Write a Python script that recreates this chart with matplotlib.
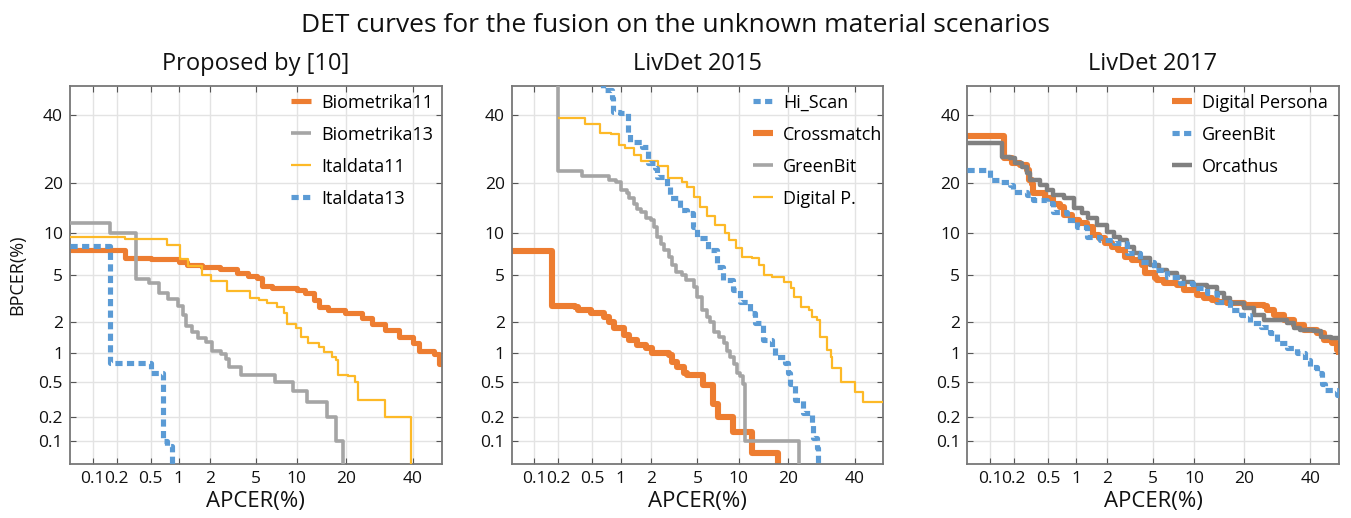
import numpy as np
import matplotlib
matplotlib.use("Agg")
import matplotlib.pyplot as plt
from matplotlib.ticker import FixedLocator, NullLocator, FixedFormatter
from statistics import NormalDist

# ---------------- data (values in %) ----------------
TICKS = [0.1, 0.2, 0.5, 1, 2, 5, 10, 20, 40]
TICK_LABELS = ["0.1", "0.2", "0.5", "1", "2", "5", "10", "20", "40"]
LIMITS = (0.05, 50)

SUPTITLE = "DET curves for the fusion on the unknown material scenarios"
TITLES = ["Proposed by [10]", "LivDet 2015", "LivDet 2017"]

# Panel 1 : Proposed by [10]
bio11_x = [0.05, 0.25, 0.5, 1.0, 1.2, 1.7, 2.5, 3.5, 4.3, 5.1, 5.6, 6.7, 10.0, 11.4, 13.0, 13.8,
           15.8, 19.7, 24.0, 26.9, 30.9, 35.3, 40.0, 42.0, 47.5, 49.0, 50]
bio11_y = [7.7, 6.7, 6.6, 6.3, 5.95, 5.8, 5.6, 5.2, 4.9, 4.75, 4.1, 3.95, 3.8, 3.6, 3.1, 2.7,
           2.56, 2.4, 2.15, 1.92, 1.68, 1.46, 1.25, 1.05, 0.98, 0.78, 0.78]

bio13_x = [0.05, 0.168, 0.34, 0.48, 0.62, 0.77, 0.97, 1.1, 1.17, 1.35, 1.54, 1.85, 2.1, 2.54,
           2.8, 3.0, 3.8, 7.0, 9.4, 11.6, 15.6, 17.6, 19.2]
bio13_y = [11.7, 10.0, 4.62, 4.29, 3.55, 3.2, 2.8, 2.3, 1.85, 1.62, 1.4, 1.3, 1.06, 0.98,
           0.88, 0.73, 0.6, 0.5, 0.4, 0.3, 0.2, 0.1, 0.02]

ital11_x = [0.05, 0.25, 0.75, 1.03, 1.23, 1.7, 2.05, 2.9, 4.5, 5.3, 6.1, 7.2, 8.1, 8.6, 9.9,
            10.6, 11.9, 13.8, 14.8, 16.5, 17.6, 18.0, 20.3, 22.3, 23.1, 30.9, 39.4]
ital11_y = [9.4, 9.2, 8.3, 6.6, 5.85, 5.0, 4.5, 3.7, 3.25, 3.12, 2.92, 2.74, 2.4, 1.92, 1.74,
            1.46, 1.25, 1.16, 1.02, 0.92, 0.85, 0.6, 0.58, 0.5, 0.31, 0.2, 0.02]

ital13_x = [0.05, 0.166, 0.5, 0.68, 0.75, 0.84]
ital13_y = [8.2, 0.8, 0.62, 0.1, 0.085, 0.02]

# Panel 2 : LivDet 2015
hiscan_x = [0.6, 0.66, 0.81, 0.83, 0.985, 1.19, 1.2, 1.24, 1.62, 1.87, 2.16, 2.24, 2.75, 2.94,
            3.59, 4.08, 4.62, 4.92, 6.06, 7.0, 7.82, 9.2, 10.2, 11.9, 12.8, 14.4, 16.2, 16.9,
            19.2, 20.0, 20.4, 21.7, 23.9, 26.3, 26.8, 27.8, 28.2]
hiscan_y = [55, 48.6, 45.7, 41.1, 40.6, 38.4, 34.0, 31.4, 29.9, 25.0, 23.7, 21.5, 19.0, 16.4,
            14.0, 13.4, 11.0, 9.25, 7.67, 5.8, 4.57, 3.8, 3.03, 2.4, 1.95, 1.35, 1.16, 0.92,
            0.79, 0.62, 0.48, 0.31, 0.22, 0.166, 0.108, 0.081, 0.02]

cross_x = [0.05, 0.169, 0.32, 0.34, 0.48, 0.67, 0.76, 0.85, 1.08, 1.22, 1.47, 1.77, 2.04, 2.89,
           3.09, 3.41, 3.88, 4.14, 5.55, 6.6, 7.2, 9.2, 12.2, 17.6]
cross_y = [7.6, 2.78, 2.7, 2.56, 2.4, 2.23, 2.0, 1.74, 1.51, 1.36, 1.21, 1.12, 1.0, 0.95,
           0.82, 0.73, 0.62, 0.6, 0.46, 0.28, 0.2, 0.13, 0.07, 0.02]

gb15_x = [0.2, 0.2, 0.385, 0.76, 0.89, 1.0, 1.17, 1.22, 1.36, 1.47, 1.58, 1.77, 1.97, 2.11,
          2.27, 2.43, 2.61, 2.89, 3.09, 3.3, 3.75, 4.0, 4.69, 4.98, 5.45, 5.95, 6.3, 6.68,
          7.27, 7.9, 8.35, 8.8, 9.3, 9.8, 10.3, 10.75, 11.1, 22.8]
gb15_y = [99, 23.0, 21.6, 20.6, 20.2, 18.2, 17.5, 16.4, 15.3, 14.3, 13.7, 12.5, 12.2, 11.0,
          9.5, 8.5, 7.66, 6.86, 5.96, 5.3, 5.0, 4.56, 4.03, 3.33, 2.56, 2.23, 2.0, 1.62,
          1.46, 1.25, 1.06, 0.92, 0.77, 0.62, 0.58, 0.47, 0.1, 0.02]

dp15_x = [0.2, 0.41, 0.6, 0.79, 0.96, 1.1, 1.36, 1.58, 2.28, 2.85, 3.75, 4.14, 4.69, 5.28,
          5.95, 6.87, 8.12, 8.58, 9.55, 10.6, 12.3, 13.5, 14.5, 16.3, 18.9, 20.6, 21.5, 23.2,
          25.5, 26.5, 27.9, 28.9, 31.0, 32.1, 32.6, 35.3, 40.1, 43.0, 50]
dp15_y = [38.9, 37.2, 34.2, 33.7, 30.4, 29.4, 27.4, 25.7, 24.3, 21.1, 20.2, 19.0, 16.7, 14.7,
          12.8, 11.3, 10.0, 9.0, 7.9, 6.86, 6.68, 5.96, 5.0, 4.85, 4.42, 3.9, 3.33, 2.74,
          2.56, 2.23, 2.08, 1.46, 1.08, 0.92, 0.70, 0.5, 0.39, 0.30, 0.30]

# Panel 3 : LivDet 2017
dp17_x = [0.05, 0.153, 0.188, 0.238, 0.285, 0.30, 0.33, 0.34, 0.465, 0.57, 0.68, 0.74, 0.90,
          1.06, 1.28, 1.49, 1.67, 1.93, 2.22, 2.55, 2.92, 3.34, 4.06, 4.32, 5.2, 5.36, 6.03,
          7.58, 8.47, 10.5, 11.6, 13.1, 14.0, 16.1, 20.0, 25.3, 26.3, 28.2, 31.3, 34.5, 37.8,
          42.4, 44.7, 47.6, 49.4, 50]
dp17_y = [33.1, 26.4, 25.0, 24.6, 23.2, 20.6, 19.8, 17.5, 16.4, 15.3, 14.7, 13.1, 12.2,
          11.6, 11.0, 9.7, 9.25, 8.55, 8.1, 7.66, 6.86, 6.5, 5.96, 5.14, 4.7, 4.56, 4.29,
          4.16, 3.79, 3.44, 3.22, 3.12, 3.02, 2.92, 2.83, 2.77, 2.56, 2.31, 2.08, 1.87, 1.68,
          1.57, 1.35, 1.25, 1.08, 0.95]

gb17_x = [0.05, 0.10, 0.135, 0.18, 0.198, 0.285, 0.34, 0.485, 0.57, 0.8, 1.02, 1.28, 1.73,
          2.3, 3.03, 3.93, 5.04, 6.4, 8.0, 9.9, 12.2, 14.0, 16.8, 19.2, 21.7, 24.4, 27.2,
          29.2, 32.4, 35.6, 38.4, 40.1, 42.4, 44.2, 45.3, 49.4, 50]
gb17_y = [23.2, 20.7, 20.2, 19.4, 17.9, 17.1, 16.1, 15.4, 13.7, 12.2, 11.0, 9.5, 9.0,
          8.55, 7.27, 6.3, 5.47, 4.86, 4.3, 3.91, 3.56, 3.03, 2.56, 2.31, 1.95, 1.81, 1.57,
          1.26, 1.12, 1.0, 0.85, 0.73, 0.62, 0.48, 0.41, 0.36, 0.36]

orc_x = [0.05, 0.142, 0.18, 0.207, 0.25, 0.285, 0.31, 0.41, 0.485, 0.57, 0.74, 0.94, 1.14,
         1.33, 1.6, 2.0, 2.3, 2.64, 3.03, 3.45, 3.93, 4.75, 5.52, 6.4, 7.6, 8.46, 9.9, 12.2,
         14.0, 15.4, 16.8, 20.0, 22.5, 25.3, 32.4, 34.5, 36.7, 41.2, 43.6, 47.1, 50]
orc_y = [30.9, 26.9, 26.5, 25.0, 24.1, 22.4, 20.7, 19.4, 18.3, 17.1, 16.4, 14.4, 13.4,
         12.5, 11.3, 10.2, 9.5, 9.0, 8.1, 7.27, 6.68, 5.96, 5.47, 5.16, 4.86, 4.43, 4.17,
         4.03, 3.56, 3.23, 2.93, 2.65, 2.31, 2.08, 1.95, 1.75, 1.68, 1.63, 1.46, 1.40, 1.40]

# ---------------- probit (normal deviate) scale ----------------
_ND = NormalDist()


def _fwd(v):
    a = np.asarray(v, dtype=float)
    out = np.full(a.shape, np.nan)
    flat_in = a.reshape(-1)
    flat_out = out.reshape(-1)
    for i, val in enumerate(flat_in):
        if np.isfinite(val):
            p = min(max(val / 100.0, 1e-12), 1 - 1e-12)
            flat_out[i] = _ND.inv_cdf(p)
    return out


def _inv(z):
    a = np.asarray(z, dtype=float)
    out = np.full(a.shape, np.nan)
    flat_in = a.reshape(-1)
    flat_out = out.reshape(-1)
    for i, val in enumerate(flat_in):
        if np.isfinite(val):
            flat_out[i] = 100.0 * _ND.cdf(val)
    return out


# ---------------- styles ----------------
ORANGE = "#ED7D31"
GRAY = "#A5A5A5"
DGRAY = "#808080"
YELLOW = "#FDB927"
BLUE = "#5B9BD5"
FONT = "Open Sans"

plt.rcParams["font.family"] = [FONT, "DejaVu Sans"]

fig = plt.figure(figsize=(13.51, 5.18), dpi=100)
fig.text(0.5, 1 - 32 / 518, SUPTITLE, fontsize=19, ha="center", va="baseline",
         color="#111111")

lefts = [70 / 1351, 511.7 / 1351, 967.3 / 1351]
width = 371.5 / 1351
bottom = 1 - 464 / 518
height = 378 / 518
leg_x = [0.596, 0.650, 0.551]

panels = [
    [("Biometrika11", bio11_x, bio11_y, dict(color=ORANGE, lw=3.7), 2),
     ("Biometrika13", bio13_x, bio13_y, dict(color=GRAY, lw=2.6), 3),
     ("Italdata11", ital11_x, ital11_y, dict(color=YELLOW, lw=1.6), 4),
     ("Italdata13", ital13_x, ital13_y, dict(color=BLUE, lw=3.7, ls=(0, (1.4, 0.85))), 5)],
    [("Hi_Scan", hiscan_x, hiscan_y, dict(color=BLUE, lw=3.7, ls=(0, (1.4, 0.85))), 6),
     ("Crossmatch", cross_x, cross_y, dict(color=ORANGE, lw=4.4), 2),
     ("GreenBit", gb15_x, gb15_y, dict(color=GRAY, lw=2.6), 3),
     ("Digital P.", dp15_x, dp15_y, dict(color=YELLOW, lw=1.6), 4)],
    [("Digital Persona", dp17_x, dp17_y, dict(color=ORANGE, lw=4.4), 2),
     ("GreenBit", gb17_x, gb17_y, dict(color=BLUE, lw=3.7, ls=(0, (1.4, 0.85))), 4),
     ("Orcathus", orc_x, orc_y, dict(color=DGRAY, lw=3.2), 3)],
]

for k, (left, series) in enumerate(zip(lefts, panels)):
    ax = fig.add_axes([left, bottom, width, height])
    ax.set_xscale("function", functions=(_fwd, _inv))
    ax.set_yscale("function", functions=(_fwd, _inv))
    ax.set_xlim(*LIMITS)
    ax.set_ylim(*LIMITS)
    handles = []
    for label, xs, ys, st, z in series:
        (ln,) = ax.plot(xs, ys, drawstyle="steps-post", label=label, zorder=z,
                        solid_capstyle="butt", dash_capstyle="butt", **st)
        handles.append(ln)
    for axis in (ax.xaxis, ax.yaxis):
        axis.set_major_locator(FixedLocator(TICKS))
        axis.set_major_formatter(FixedFormatter(TICK_LABELS))
        axis.set_minor_locator(NullLocator())
    ax.grid(True, color="#E3E3E3", lw=1.0, zorder=0)
    ax.set_axisbelow(True)
    ax.tick_params(which="both", direction="in", top=True, right=True, length=4,
                   width=0.8, color="#555555", labelsize=12.5, pad=5, labelcolor="#111111")
    for sp in ax.spines.values():
        sp.set_color("#777777")
        sp.set_linewidth(1.3)
    ax.set_title(TITLES[k], fontsize=17, pad=11.5, color="#111111")
    ax.set_xlabel("APCER(%)", fontsize=16, labelpad=3, color="#111111")
    if k == 0:
        ax.set_ylabel("BPCER(%)", fontsize=13, labelpad=9, color="#111111")
    ax.legend(handles=handles, loc="upper left", bbox_to_anchor=(leg_x[k], 0.98),
              frameon=False, fontsize=13, handlelength=1.1, handletextpad=0.55,
              labelspacing=0.78, borderpad=0, borderaxespad=0)

fig.savefig("out.png", dpi=100)
